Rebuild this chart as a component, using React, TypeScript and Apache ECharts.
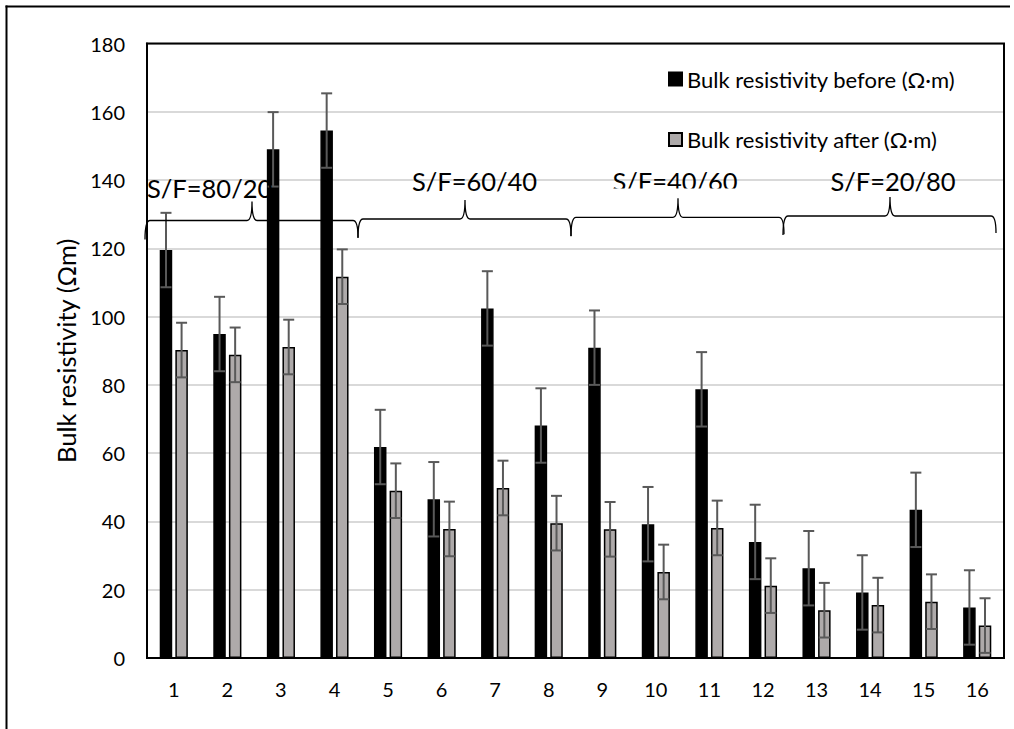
import React, { useEffect, useRef } from "react";
import * as echarts from "echarts";

const categories = ["1", "2", "3", "4", "5", "6", "7", "8", "9", "10", "11", "12", "13", "14", "15", "16"];
const beforeValues = [119.5, 94.9, 149.0, 154.5, 61.8, 46.5, 102.4, 68.1, 90.9, 39.2, 78.7, 34.0, 26.3, 19.2, 43.4, 14.8];
const afterValues = [90.2, 88.8, 91.1, 111.7, 49.0, 37.8, 49.8, 39.5, 37.7, 25.2, 38.1, 21.2, 14.0, 15.5, 16.5, 9.5];
const beforeErrors = [10.9, 10.9, 10.9, 10.9, 10.9, 10.9, 10.9, 10.9, 10.9, 10.9, 10.9, 10.9, 10.9, 10.9, 10.9, 10.9];
const afterErrors = [8.0, 8.0, 8.0, 8.0, 8.0, 8.0, 8.0, 8.0, 8.0, 8.0, 8.0, 8.0, 8.0, 8.0, 8.0, 8.0];
const groupLabels = ["S/F=80/20", "S/F=60/40", "S/F=40/60", "S/F=20/80"];
const seriesNames = ["Bulk resistivity before (Ω·m)", "Bulk resistivity after (Ω·m)"];
const yTicks = { min: 0, max: 180, interval: 20 };

const W = 1014;
const H = 729;
const GRID = { left: 147, top: 43.5, right: 10, bottom: 71 };
const FONT = "Lato";
const BAR_OFFSET = 7.8;

let registered = false;
function registerBrace() {
  if (registered) return;
  registered = true;
  const d = "M 0 19 Q 0 0 5 0 L 102 0 Q 107 0 107 -19 Q 107 0 112 0 L 208 0 Q 213 0 213 17";
  echarts.graphic.registerShape("brace", echarts.graphic.extendPath(d, {}));
}

function errorSeries(values: number[], errs: number[], offset: number, z: number) {
  return {
    type: "custom",
    z,
    silent: true,
    data: values.map((v, i) => [i, v, errs[i]]),
    encode: { x: 0, y: 1 },
    renderItem: (params: any, api: any) => {
      const idx = api.value(0);
      const v = api.value(1);
      const e = api.value(2);
      const top = api.coord([idx, v + e]);
      const bot = api.coord([idx, Math.max(0, v - e)]);
      const x = top[0] + offset;
      const cap = 5.5;
      const style = { stroke: "#595959", lineWidth: 2 };
      return {
        type: "group",
        children: [
          { type: "line", shape: { x1: x, y1: top[1], x2: x, y2: bot[1] }, style },
          { type: "line", shape: { x1: x - cap, y1: top[1], x2: x + cap, y2: top[1] }, style },
          { type: "line", shape: { x1: x - cap, y1: bot[1], x2: x + cap, y2: bot[1] }, style },
        ],
      };
    },
  };
}

export default function App() {
  const ref = useRef<HTMLDivElement>(null);

  useEffect(() => {
    if (!ref.current) return;
    registerBrace();
    const chart = echarts.init(ref.current, null, { renderer: "svg", width: W, height: H });

    const plotW = W - GRID.left - GRID.right;
    const plotH = H - GRID.top - GRID.bottom;
    const braceStarts = [145, 358, 571, 783];
    const braceLineY = [220.5, 219, 217.3, 216];
    const labelX = [147, 474.5, 675, 893];
    const labelY = [187.5, 181, 181, 180.5];

    const graphics: any[] = [];
    braceStarts.forEach((bx, i) => {
      graphics.push({
        type: "brace",
        x: bx,
        y: braceLineY[i],
        z: 50,
        style: { fill: "none", stroke: "#000", lineWidth: 1.3 },
      });
      graphics.push({
        type: "text",
        x: labelX[i],
        y: labelY[i],
        z: 50,
        style: {
          text: groupLabels[i],
          font: `25.5px ${FONT}`,
          fill: "#000",
          textAlign: i === 0 ? "left" : "center",
          textVerticalAlign: "middle",
        },
      });
    });
    // clipped bottom of the third group label
    graphics.push({
      type: "rect",
      z: 51,
      shape: { x: 605, y: 188.5, width: 140, height: 9 },
      style: { fill: "#fff" },
    });
    // plot frame
    graphics.push({
      type: "rect",
      z: 60,
      shape: { x: GRID.left, y: GRID.top, width: plotW, height: plotH },
      style: { fill: "none", stroke: "#000", lineWidth: 2 },
    });
    // outer frame (top & left visible)
    graphics.push({
      type: "line",
      z: 60,
      shape: { x1: 5.5, y1: 6.5, x2: 1010, y2: 6.5 },
      style: { stroke: "#000", lineWidth: 2 },
    });
    graphics.push({
      type: "line",
      z: 60,
      shape: { x1: 6.5, y1: 5.5, x2: 6.5, y2: H },
      style: { stroke: "#000", lineWidth: 2 },
    });

    const option: any = {
      animation: false,
      backgroundColor: "#fff",
      textStyle: { fontFamily: FONT },
      grid: { left: GRID.left, top: GRID.top, right: GRID.right, bottom: GRID.bottom, containLabel: false },
      legend: {
        orient: "vertical",
        left: 668,
        top: 67,
        padding: 0,
        itemWidth: 13,
        itemHeight: 13,
        itemGap: 36.5,
        icon: "rect",
        data: seriesNames,
        textStyle: { fontFamily: FONT, fontSize: 22, color: "#000", lineHeight: 24 },
      },
      xAxis: {
        type: "category",
        data: categories,
        axisLine: { show: true, lineStyle: { color: "#000", width: 2 } },
        axisTick: { show: false },
        axisLabel: { color: "#000", fontSize: 20, fontFamily: FONT, margin: 21 },
      },
      yAxis: {
        type: "value",
        min: yTicks.min,
        max: yTicks.max,
        interval: yTicks.interval,
        name: "Bulk resistivity (Ωm)",
        nameLocation: "middle",
        nameGap: 66,
        nameTextStyle: { color: "#000", fontSize: 25.5, fontFamily: FONT },
        axisLine: { show: true, lineStyle: { color: "#000", width: 2 } },
        axisTick: { show: false },
        axisLabel: { color: "#000", fontSize: 20, fontFamily: FONT, margin: 22 },
        splitLine: { show: true, lineStyle: { color: "#d9d9d9", width: 2 } },
      },
      series: [
        {
          name: seriesNames[0],
          type: "bar",
          data: beforeValues,
          barWidth: 12.5,
          barGap: "25%",
          itemStyle: { color: "#000", borderColor: "#000", borderWidth: 1.5 },
        },
        {
          name: seriesNames[1],
          type: "bar",
          data: afterValues,
          barWidth: 12.5,
          barGap: "25%",
          itemStyle: { color: "#aeaaaa", borderColor: "#000", borderWidth: 1.5 },
        },
        errorSeries(beforeValues, beforeErrors, -BAR_OFFSET, 5),
        errorSeries(afterValues, afterErrors, BAR_OFFSET, 5),
      ],
      graphic: graphics,
    };

    chart.setOption(option);
    return () => chart.dispose();
  }, []);

  return (
    <div
      ref={ref}
      style={{ position: "fixed", left: 0, top: 0, width: W, height: H, background: "#fff" }}
    />
  );
}
